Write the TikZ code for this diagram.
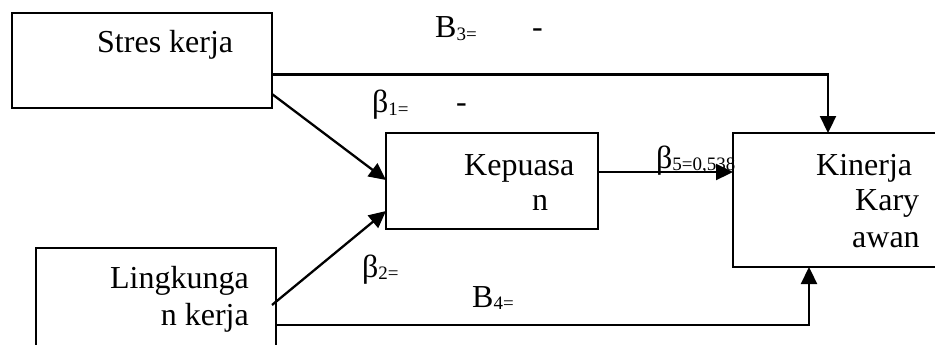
\documentclass[tikz,border=0pt]{standalone}
\usepackage{fontspec}
\setmainfont{Liberation Serif}
\usetikzlibrary{arrows.meta}
\newcommand{\lblsub}[1]{\raisebox{-2pt}{\fontsize{19}{22}\selectfont #1}}

\begin{document}
\begin{tikzpicture}[x=1pt,y=-1pt,
    box/.style={draw, line width=1.8pt, inner sep=0pt, outer sep=0pt, anchor=north west},
    txt/.style={inner sep=0pt, font=\fontsize{32}{38}\selectfont},
    arr/.style={line width=2.3pt, -{Triangle[length=17pt,width=16pt]}}]
  \useasboundingbox (0,0) rectangle (935,345);
  \clip (0,0) rectangle (935,345);
  \node[box, minimum width=260pt, minimum height=95pt] (stres) at (12,13) {};
  \node[box, minimum width=212pt, minimum height=96pt] (kepuasan) at (386,133) {};
  \node[box, minimum width=215pt, minimum height=134pt] (kinerja) at (733,133) {};
  \node[box, minimum width=240pt, minimum height=110pt] (lingkungan) at (36,248) {};

  \node[txt, anchor=base west] (tstres) at (97,53) {Stres kerja};
  \node[txt, anchor=base west] (tkep1) at (464,175) {Kepuasa};
  \node[txt, anchor=base west] (tkep2) at (532,210) {n};
  \node[txt, anchor=base west] (tkin1) at (816,175) {Kinerja};
  \node[txt, anchor=base west] (tkin2) at (855,210) {Kary};
  \node[txt, anchor=base west] (tkin3) at (852,247) {awan};
  \node[txt, anchor=base east] (tling1) at (249,288) {Lingkunga};
  \node[txt, anchor=base east] (tling2) at (249,325) {n kerja};

  \draw[arr] ([yshift=-14pt]stres.east) -| ([xshift=95pt]kinerja.north west);
  \draw[arr] ([yshift=14pt]stres.south east) -- ([yshift=-47pt]kepuasan.north west);
  \draw[arr] ([xshift=-4pt,yshift=-57pt]lingkungan.north east) -- ([yshift=18pt]kepuasan.south west);
  \draw[arr] ([yshift=-77pt]lingkungan.north east) -| ([xshift=76pt]kinerja.south west);
  \draw[arr] ([yshift=-39pt]kepuasan.north east) -- ([yshift=-39pt]kinerja.north west);

  \node[txt, anchor=base west] (b3) at (435,38) {B\lblsub{3=}};
  \node[txt, anchor=base west] (b3v) at (532,38) {-};
  \node[txt, anchor=base west] (b1) at (372,113) {β\lblsub{1=}};
  \node[txt, anchor=base west] (b1v) at (456,113) {-};
  \node[txt, anchor=base west] (b5) at (656,168) {β\lblsub{5=0,538}};
  \node[txt, anchor=base west] (b2) at (362,277) {β\lblsub{2=}};
  \node[txt, anchor=base west] (b4) at (472,307) {B\lblsub{4=}};
\end{tikzpicture}
\end{document}
